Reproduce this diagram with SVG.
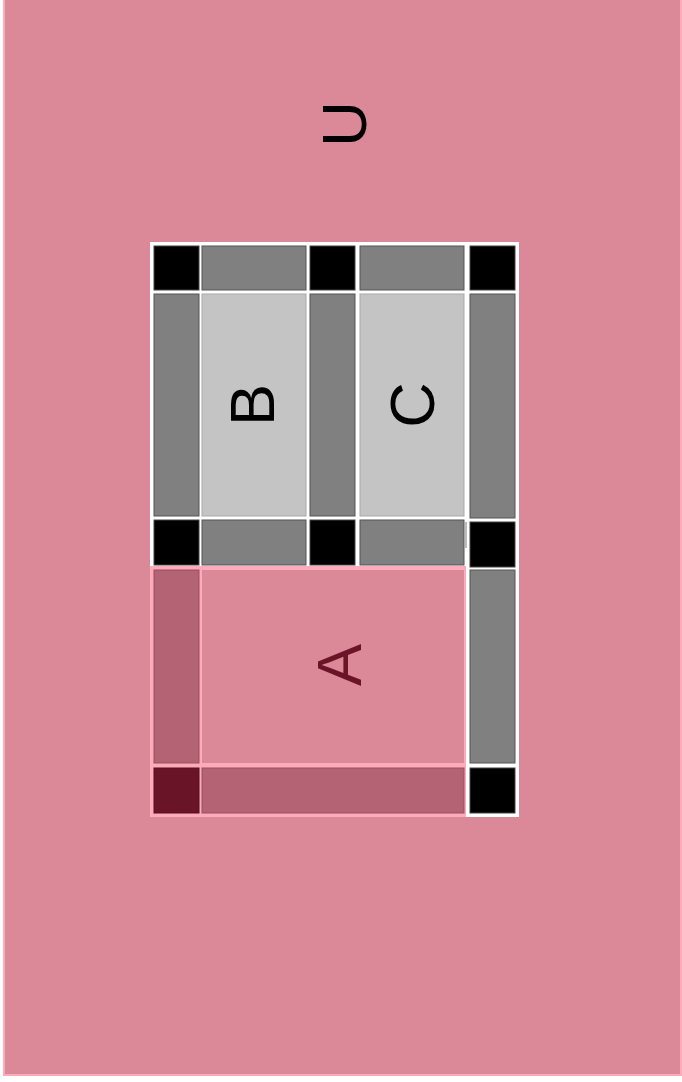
<svg xmlns="http://www.w3.org/2000/svg" width="682" height="1082" viewBox="0 0 682 1082">
<style>
.lbl{font-family:"Liberation Sans",Arial,sans-serif;font-size:63px;text-anchor:middle}
.k{fill:#000;stroke:#444;stroke-width:1}
.g{fill:#808080;stroke:#555;stroke-width:1}
.l{fill:#C4C4C4;stroke:#aaa;stroke-width:1}
.p{fill:#B36373;stroke:#9a4e60;stroke-width:1}
</style>
<rect x="0" y="0" width="682" height="1082" fill="#fff"/>
<rect id="U" x="4" y="-4" width="677" height="1079" fill="#DB8899" stroke="#FFAABB" stroke-width="2"/>
<g id="frame">
<rect x="150" y="242" width="369" height="327" fill="#fff"/>
<rect x="466" y="566" width="53" height="251" fill="#fff"/>
<rect x="150" y="566" width="316" height="251" fill="#FFAABB"/>
</g>
<g id="row1">
<rect class="k" x="154" y="246" width="45" height="44"/>
<rect class="g" x="202" y="246" width="104" height="44"/>
<rect class="k" x="310" y="246" width="45" height="44"/>
<rect class="g" x="360" y="246" width="104" height="44"/>
<rect class="k" x="470" y="246" width="45" height="44"/>
</g>
<g id="row2">
<rect class="g" x="154" y="294" width="45" height="222"/>
<rect class="g" x="310" y="294" width="45" height="222"/>
<rect class="g" x="470" y="294" width="45" height="224"/>
</g>
<g id="B">
<rect class="l" x="202" y="294" width="104" height="222"/>
<text class="lbl" transform="translate(274,405) rotate(-90)">B</text>
</g>
<g id="C">
<rect class="l" x="360" y="294" width="104" height="222"/>
<text class="lbl" transform="translate(434,405) rotate(-90)">C</text>
</g>
<g id="row3">
<rect class="k" x="154" y="520" width="45" height="45"/>
<rect class="g" x="202" y="520" width="104" height="45"/>
<rect class="k" x="310" y="520" width="45" height="45"/>
<rect class="g" x="360" y="520" width="104" height="45"/>
<rect x="465" y="522" width="2" height="26" fill="#bbb"/>
<rect class="k" x="470" y="522" width="45" height="45"/>
</g>
<g id="A">
<rect x="202" y="570" width="262" height="193" fill="#DB8899"/>
<text class="lbl" fill="#6A1428" transform="translate(361,665) rotate(-90)">A</text>
</g>
<g id="row4">
<rect class="p" x="154" y="570" width="45" height="193"/>
<rect class="g" x="470" y="570" width="45" height="193"/>
</g>
<g id="row5">
<rect x="154" y="768" width="45" height="45" fill="#6A1428" stroke="#55101f" stroke-width="1"/>
<rect class="p" x="202" y="768" width="262" height="45"/>
<rect class="k" x="470" y="768" width="45" height="45"/>
</g>
<g id="labelU">
<text class="lbl" transform="translate(366,124) rotate(-90)">U</text>
</g>
</svg>
